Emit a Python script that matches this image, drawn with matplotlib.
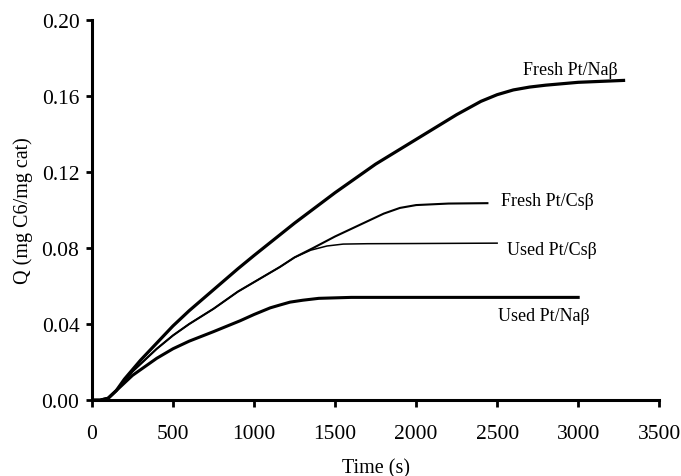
import matplotlib
matplotlib.use('Agg')
import matplotlib.pyplot as plt

plt.rcParams['font.family'] = ['Liberation Serif', 'DejaVu Serif']

# adsorption curves, Q (mg C6/mg cat) vs time (s)
t_fresh_na = [0, 50, 100, 150, 200, 250, 300, 400, 500, 600, 750, 900, 1000, 1250, 1500, 1750, 2000,
              2250, 2400, 2500, 2600, 2700, 2800, 3000, 3280]
q_fresh_na = [0, 0, 0.001, 0.005, 0.011, 0.016, 0.021, 0.030, 0.039, 0.047, 0.058, 0.069, 0.076, 0.093,
              0.109, 0.124, 0.137, 0.150, 0.157, 0.1605, 0.163, 0.1645, 0.1655, 0.167, 0.168]

t_fresh_cs = [0, 50, 100, 150, 200, 250, 300, 400, 500, 600, 750, 900, 1000, 1160, 1250, 1366, 1500,
              1650, 1800, 1900, 2000, 2200, 2440]
q_fresh_cs = [0, 0, 0.001, 0.005, 0.010, 0.015, 0.019, 0.027, 0.034, 0.040, 0.048, 0.057, 0.062, 0.070,
              0.075, 0.080, 0.086, 0.092, 0.098, 0.101, 0.1025, 0.1033, 0.1035]

t_used_cs = [0, 50, 100, 150, 200, 250, 300, 400, 500, 600, 750, 900, 1000, 1160, 1250, 1350, 1450,
             1550, 1700, 2000, 2500]
q_used_cs = [0, 0, 0.001, 0.005, 0.010, 0.015, 0.019, 0.027, 0.034, 0.040, 0.048, 0.057, 0.062, 0.070,
             0.075, 0.0788, 0.081, 0.082, 0.0822, 0.0823, 0.0825]

t_used_na = [0, 50, 100, 150, 200, 250, 300, 400, 500, 600, 750, 914, 1000, 1100, 1160, 1222, 1300,
             1400, 1600, 2000, 2500, 3000]
q_used_na = [0, 0, 0.001, 0.005, 0.009, 0.013, 0.016, 0.022, 0.027, 0.031, 0.036, 0.0417, 0.045, 0.0485,
             0.050, 0.0515, 0.0525, 0.0535, 0.054, 0.054, 0.054, 0.054]

fig = plt.figure(figsize=(6.81, 4.77), dpi=100)
ax = fig.add_axes([0.135, 0.159, 0.833, 0.798])

ax.plot(t_fresh_na, q_fresh_na, color='black', lw=2.3)
ax.plot(t_fresh_cs, q_fresh_cs, color='black', lw=1.5)
ax.plot(t_used_cs, q_used_cs, color='black', lw=1.1)
ax.plot(t_used_na, q_used_na, color='black', lw=2.2)

# curve labels
ax.text(2660, 0.1735, 'Fresh Pt/Naβ', fontsize=13, va='center')
ax.text(2523, 0.1048, 'Fresh Pt/Csβ', fontsize=13, va='center')
ax.text(2560, 0.0794, 'Used Pt/Csβ', fontsize=13, va='center')
ax.text(2506, 0.0447, 'Used Pt/Naβ', fontsize=13, va='center')

ax.set_xlim(0, 3500)
ax.set_ylim(0, 0.20)
ax.set_xticks(range(0, 3501, 500))
ax.set_yticks([0, 0.04, 0.08, 0.12, 0.16, 0.20])
ax.set_yticklabels(['0.00', '0.04', '0.08', '0.12', '0.16', '0.20'])

for s in ['top', 'right']:
    ax.spines[s].set_visible(False)
for s in ['left', 'bottom']:
    ax.spines[s].set_linewidth(2.2)
ax.tick_params(axis='both', direction='out', width=2, labelsize=15.5)
ax.tick_params(axis='y', length=4, pad=5)
ax.tick_params(axis='x', length=5, pad=12)

ax.set_xlabel('Time (s)', fontsize=14.5, labelpad=11)
ax.set_ylabel('Q (mg C6/mg cat)', fontsize=14.5, labelpad=6)

fig.savefig('out.png', dpi=100)
